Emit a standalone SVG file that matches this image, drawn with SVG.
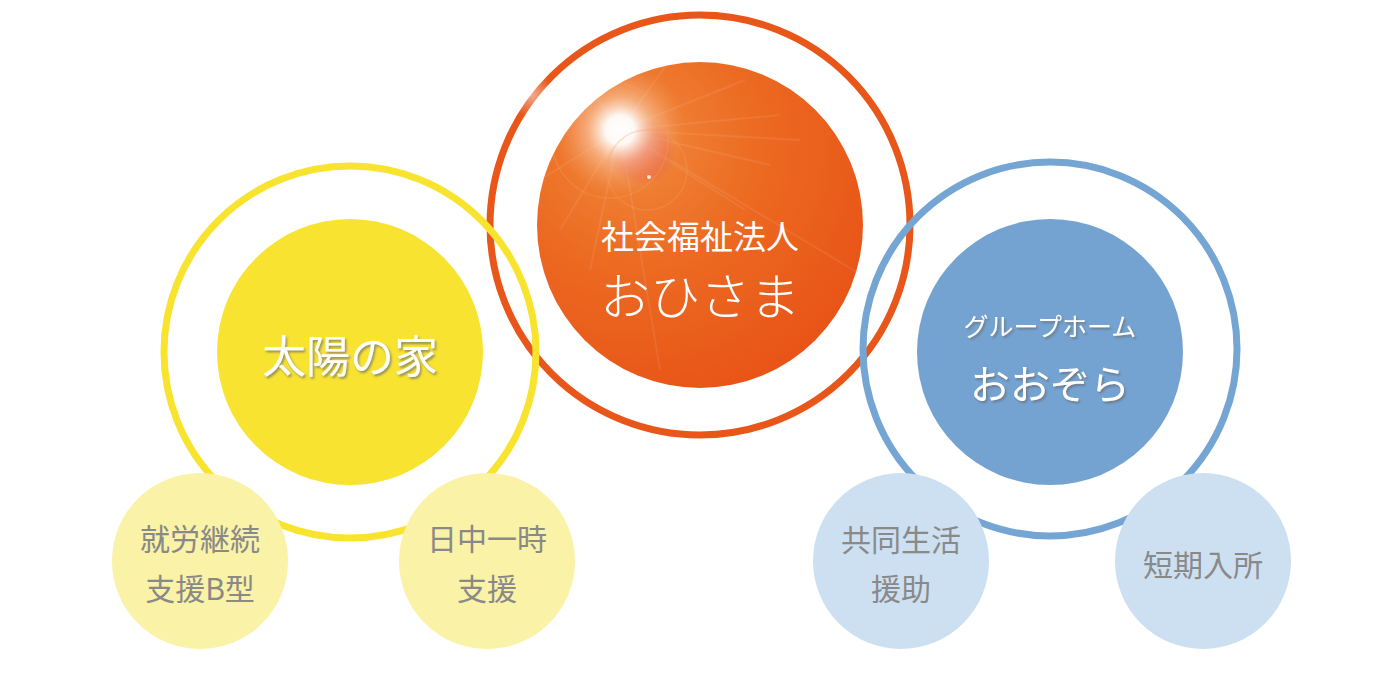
<svg xmlns="http://www.w3.org/2000/svg" width="1400" height="700" viewBox="0 0 1400 700">
<style>
.jp{font-family:"Noto Sans CJK JP","Noto Sans",sans-serif;text-anchor:middle}
.w{fill:#ffffff}
.g{fill:#898989}
.ring{fill:none;stroke-width:7}
</style>
<defs>
<radialGradient id="orgGrad" cx="0.3" cy="0.25" r="0.85">
<stop offset="0" stop-color="#f08a3c"/>
<stop offset="0.45" stop-color="#ec6a22"/>
<stop offset="1" stop-color="#e85216"/>
</radialGradient>
<radialGradient id="glow" cx="0.5" cy="0.5" r="0.5">
<stop offset="0" stop-color="#ffffff" stop-opacity="1"/>
<stop offset="0.22" stop-color="#ffffff" stop-opacity="0.95"/>
<stop offset="0.5" stop-color="#fcd8c0" stop-opacity="0.5"/>
<stop offset="1" stop-color="#f6a070" stop-opacity="0"/>
</radialGradient>
<radialGradient id="redspot" cx="0.5" cy="0.5" r="0.5">
<stop offset="0" stop-color="#e4403a" stop-opacity="0.6"/>
<stop offset="0.7" stop-color="#e4403a" stop-opacity="0.35"/>
<stop offset="1" stop-color="#e4403a" stop-opacity="0"/>
</radialGradient>
<radialGradient id="ringGlow" cx="0.5" cy="0.5" r="0.5">
<stop offset="0" stop-color="#ffffff" stop-opacity="0.5"/>
<stop offset="1" stop-color="#ffffff" stop-opacity="0"/>
</radialGradient>
<filter id="shadow" x="-20%" y="-20%" width="140%" height="150%">
<feDropShadow dx="1.5" dy="2" stdDeviation="1" flood-color="#6b6b6b" flood-opacity="0.7"/>
</filter>
<clipPath id="orgClip"><circle cx="700" cy="225" r="163"/></clipPath>
</defs>

<g id="node-ohisama">
<circle class="ring" cx="700" cy="225" r="210" stroke="#e9561a"/>
<circle cx="532" cy="95" r="22" fill="url(#ringGlow)"/>
<circle cx="700" cy="225" r="163" fill="url(#orgGrad)"/>
<g clip-path="url(#orgClip)">
<g stroke="#ffffff" stroke-opacity="0.08" stroke-width="2">
<line x1="620" y1="130" x2="780" y2="115"/>
<line x1="620" y1="130" x2="770" y2="165"/>
<line x1="620" y1="130" x2="745" y2="80"/>
<line x1="620" y1="130" x2="745" y2="210"/>
<line x1="620" y1="130" x2="560" y2="230"/>
<line x1="620" y1="130" x2="590" y2="270"/>
<line x1="620" y1="130" x2="540" y2="180"/>
<line x1="620" y1="130" x2="670" y2="60"/>
<line x1="620" y1="130" x2="870" y2="280"/>
<line x1="620" y1="130" x2="660" y2="370"/>
<line x1="620" y1="130" x2="800" y2="140"/>
<line x1="620" y1="130" x2="570" y2="60"/>
</g>
<circle cx="642" cy="152" r="34" fill="url(#redspot)"/>
<circle cx="620" cy="130" r="66" fill="url(#glow)"/>
<circle cx="610" cy="140" r="58" fill="none" stroke="#f7a060" stroke-opacity="0.3" stroke-width="1.5"/>
<circle cx="647" cy="170" r="40" fill="none" stroke="#f7a060" stroke-opacity="0.3" stroke-width="1.5"/>
<circle cx="649" cy="177" r="2" fill="#ffffff" fill-opacity="0.8"/>
</g>
<text class="jp w" x="700" y="249" font-size="33">社会福祉法人</text>
<text class="jp w" x="700" y="315" font-size="50" font-weight="300">おひさま</text>
</g>

<g id="node-taiyou">
<circle class="ring" cx="350" cy="352" r="186" stroke="#f8e32f"/>
<circle cx="350" cy="352" r="133" fill="#f8e331"/>
<text class="jp w" x="350" y="373" font-size="44" filter="url(#shadow)">太陽の家</text>
</g>

<g id="node-oozora">
<circle class="ring" cx="1050" cy="349" r="187" stroke="#75a5d3"/>
<circle cx="1050" cy="352" r="133" fill="#74a3d2"/>
<text class="jp w" x="1050" y="336" font-size="25" filter="url(#shadow)">グループホーム</text>
<text class="jp w" x="1050" y="399" font-size="40" filter="url(#shadow)">おおぞら</text>
</g>

<g id="node-shurou">
<circle cx="200" cy="561" r="88" fill="#faf2a6"/>
<text class="jp g" x="200" y="550" font-size="30">就労継続</text>
<text class="jp g" x="200" y="600" font-size="30">支援B型</text>
</g>

<g id="node-nicchu">
<circle cx="487" cy="561" r="88" fill="#faf2a6"/>
<text class="jp g" x="487" y="550" font-size="30">日中一時</text>
<text class="jp g" x="487" y="600" font-size="30">支援</text>
</g>

<g id="node-kyoudou">
<circle cx="901" cy="561" r="88" fill="#cde0f2"/>
<text class="jp g" x="901" y="551" font-size="30">共同生活</text>
<text class="jp g" x="901" y="600" font-size="30">援助</text>
</g>

<g id="node-tanki">
<circle cx="1203" cy="561" r="88" fill="#cde0f2"/>
<text class="jp g" x="1203" y="576" font-size="30">短期入所</text>
</g>
</svg>
